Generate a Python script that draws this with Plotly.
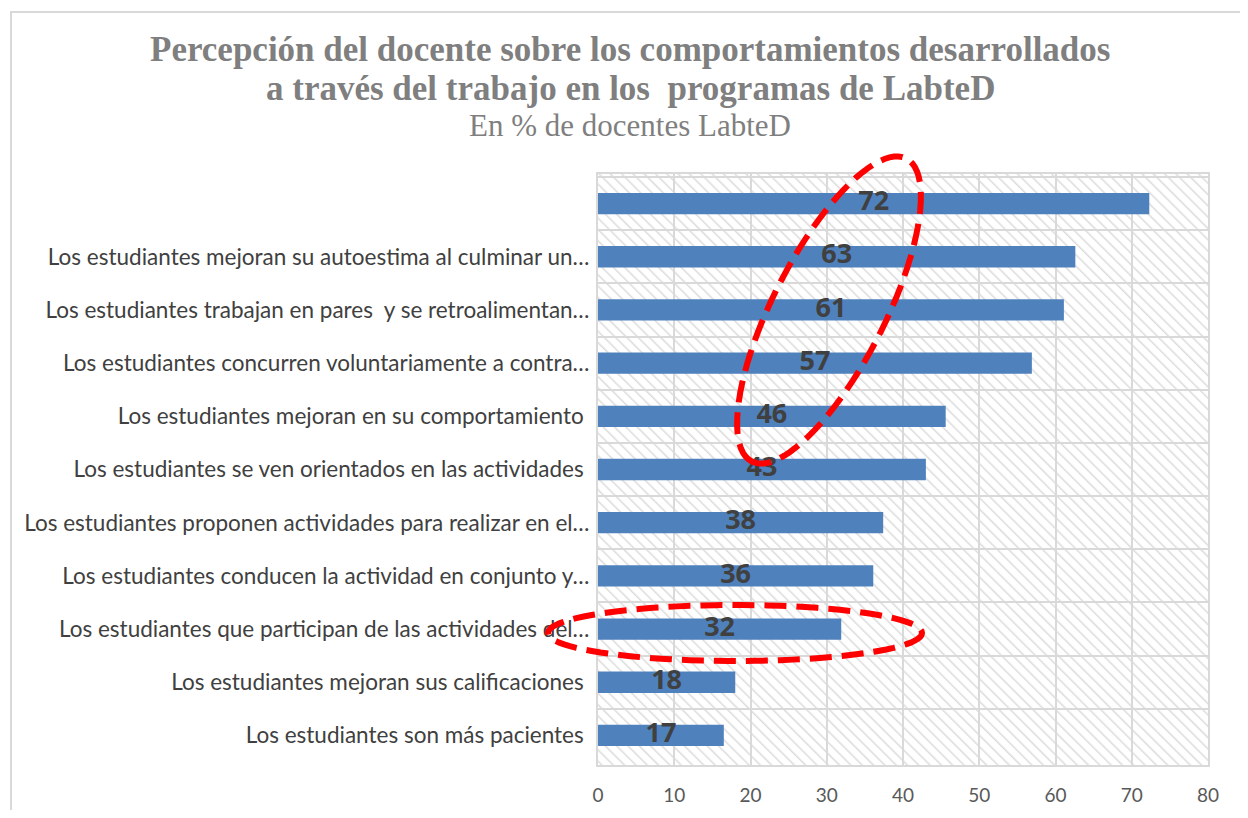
import base64
import math
import plotly.graph_objects as go

# categories top to bottom (Excel truncates the long ones with an ellipsis)
categories = [
    " ",
    "Los estudiantes mejoran su autoestima al culminar un…",
    "Los estudiantes trabajan en pares  y se retroalimentan…",
    "Los estudiantes concurren voluntariamente a contra…",
    "Los estudiantes mejoran en su comportamiento\u00a0",
    "Los estudiantes se ven orientados en las actividades\u00a0",
    "Los estudiantes proponen actividades para realizar en el…",
    "Los estudiantes conducen la actividad en conjunto y…",
    "Los estudiantes que participan de las actividades del…",
    "Los estudiantes mejoran sus calificaciones\u00a0",
    "Los estudiantes son más pacientes\u00a0",
]
values = [72.3, 62.6, 61.1, 56.9, 45.6, 43.0, 37.4, 36.1, 31.9, 18.0, 16.5]
value_labels = ["72", "63", "61", "57", "46", "43", "38", "36", "32", "18", "17"]
x_ticks = [0, 10, 20, 30, 40, 50, 60, 70, 80]

# page has an 8px body margin, so the figure is a bit smaller than the window
OFF = 8
W, H = 1232, 802
L, T = 598 - OFF, 174 - OFF
R = W - (1208 - OFF)
B = H - (765 - OFF)
PW, PH = W - L - R, H - T - B

BAR = '#4f81bd'
GRID = '#d9d9d9'


def hatch_svg(w, h):
    svg = (
        f'<svg xmlns="http://www.w3.org/2000/svg" width="{w}" height="{h}">'
        '<defs><pattern id="p" width="8" height="8" patternUnits="userSpaceOnUse" '
        'patternTransform="rotate(-45)">'
        '<rect width="8" height="8" fill="white"/>'
        '<line x1="0" y1="0" x2="0" y2="8" stroke="#dcdcdc" stroke-width="3"/>'
        '</pattern></defs>'
        f'<rect width="{w}" height="{h}" fill="url(#p)"/></svg>'
    )
    return 'data:image/svg+xml;base64,' + base64.b64encode(svg.encode()).decode()


def px_to_paper(px, py):
    # page pixel -> paper coords of the plot area
    fx, fy = px - OFF, py - OFF
    return (fx - L) / PW, (H - B - fy) / PH


def ellipse_path(cx, cy, a, b, angle_deg, n=90):
    th = math.radians(angle_deg)
    pts = []
    for i in range(n + 1):
        t = 2 * math.pi * i / n
        px = cx + a * math.cos(t) * math.cos(th) - b * math.sin(t) * math.sin(th)
        py = cy + a * math.cos(t) * math.sin(th) + b * math.sin(t) * math.cos(th)
        pts.append(px_to_paper(px, py))
    return 'M ' + ' L '.join(f'{x:.4f},{y:.4f}' for x, y in pts) + ' Z'


fig = go.Figure()
fig.add_trace(go.Bar(
    y=categories,
    x=values,
    orientation='h',
    marker=dict(color=BAR, line=dict(width=0)),
    width=0.4,
    hoverinfo='x+y',
))
fig.add_trace(go.Scatter(
    y=categories,
    x=[v / 2 for v in values],
    mode='text',
    text=value_labels,
    textposition='middle center',
    textfont=dict(family='Open Sans', size=27, color='#404040', weight='bold'),
    cliponaxis=False,
    hoverinfo='skip',
))

fig.add_layout_image(dict(
    source=hatch_svg(PW, PH),
    xref='paper', yref='paper', x=0, y=1, sizex=1, sizey=1,
    xanchor='left', yanchor='top', sizing='stretch', layer='below',
))

# outer chart-area border
bx0, by1 = px_to_paper(11, 12)
fig.add_shape(type='rect', xref='paper', yref='paper',
              x0=bx0, x1=2, y0=-1, y1=by1,
              line=dict(color=GRID, width=2), layer='below')

# red dashed ellipses drawn over the chart
red = dict(color='#ff0000', width=6, dash='22px,10px')
fig.add_shape(type='path', xref='paper', yref='paper',
              path=ellipse_path(829, 310, 170, 56, 117), line=red)
fig.add_shape(type='path', xref='paper', yref='paper',
              path=ellipse_path(735, 633, 187, 28, 0), line=red)

# title lines
for txt, py, size, bold in [
    ('Percepción del docente sobre los comportamientos desarrollados', 50, 35, True),
    ('a través del trabajo en los  programas de LabteD', 88, 35, True),
    ('En % de docentes LabteD', 125, 31, False),
]:
    tx, ty = px_to_paper(630, py)
    fig.add_annotation(
        text=f'<b>{txt}</b>' if bold else txt,
        xref='paper', yref='paper', x=tx, y=ty,
        xanchor='center', yanchor='middle', showarrow=False,
        font=dict(family='Liberation Serif', size=size, color='#7f7f7f'),
    )

fig.update_layout(
    width=W, height=H,
    margin=dict(l=L, r=R, t=T, b=B),
    paper_bgcolor='white',
    plot_bgcolor='rgba(0,0,0,0)',
    showlegend=False,
    bargap=0.6,
    font=dict(family='Lato', color='#404040'),
    xaxis=dict(
        range=[0, 80], tickvals=x_ticks, automargin=False,
        showgrid=True, gridcolor=GRID, gridwidth=2,
        showline=True, linecolor=GRID, linewidth=2, mirror=True,
        zeroline=False, ticks='', ticklabelstandoff=12,
        tickfont=dict(family='Lato', size=19, color='#595959'),
    ),
    yaxis=dict(
        autorange='reversed', type='category', tickson='boundaries',
        automargin=False,
        showgrid=True, gridcolor=GRID, gridwidth=2,
        showline=True, linecolor=GRID, linewidth=2, mirror=True,
        ticks='', ticklabelstandoff=2,
        tickfont=dict(family='Lato', size=22.5, color='#404040'),
    ),
)

fig.write_html("out.html")
